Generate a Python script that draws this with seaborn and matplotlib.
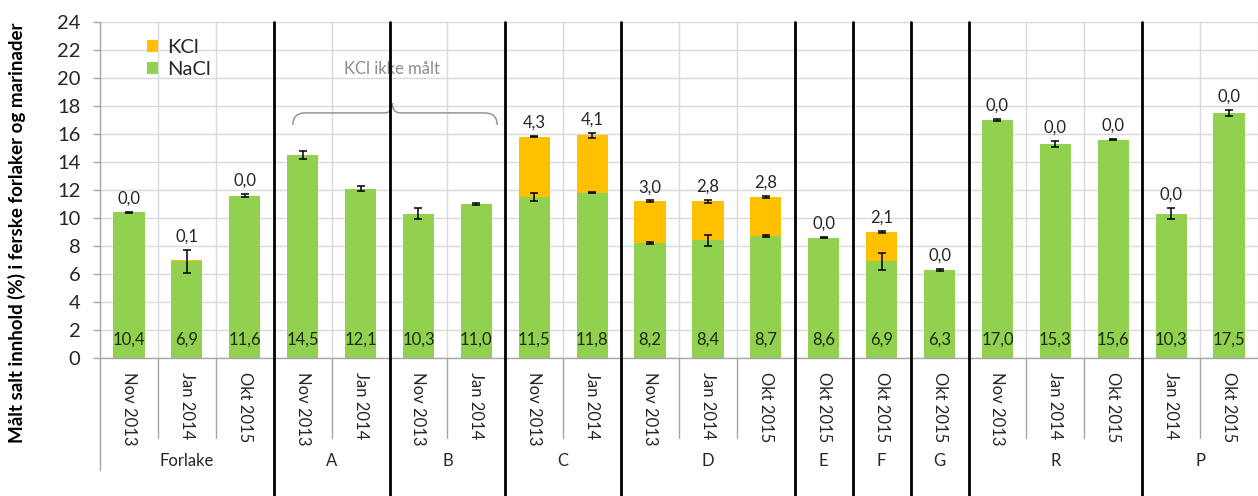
import numpy as np
import pandas as pd
import matplotlib
matplotlib.use("Agg")
import matplotlib.pyplot as plt
from matplotlib.path import Path
from matplotlib.patches import PathPatch, Patch
from matplotlib.transforms import blended_transform_factory
import seaborn as sns

# ---- data ---------------------------------------------------------------
groups = ["Forlake", "A", "B", "C", "D", "E", "F", "G", "R", "P"]
group_dates = [
    ["Nov 2013", "Jan 2014", "Okt 2015"],
    ["Nov 2013", "Jan 2014"],
    ["Nov 2013", "Jan 2014"],
    ["Nov 2013", "Jan 2014"],
    ["Nov 2013", "Jan 2014", "Okt 2015"],
    ["Okt 2015"],
    ["Okt 2015"],
    ["Okt 2015"],
    ["Nov 2013", "Jan 2014", "Okt 2015"],
    ["Jan 2014", "Okt 2015"],
]
nacl = [10.4, 6.9, 11.6, 14.5, 12.1, 10.3, 11.0, 11.5, 11.8,
        8.2, 8.4, 8.7, 8.6, 6.9, 6.3, 17.0, 15.3, 15.6, 10.3, 17.5]
# KCl was not measured for A and B
kcl = [0.0, 0.1, 0.0, np.nan, np.nan, np.nan, np.nan, 4.3, 4.1,
       3.0, 2.8, 2.8, 0.0, 2.1, 0.0, 0.0, 0.0, 0.0, 0.0, 0.0]
# standard deviations: NaCl part and total (NaCl + KCl)
nacl_err = [np.nan, 0.85, np.nan, np.nan, np.nan, np.nan, np.nan, 0.3, 0.05,
            0.06, 0.4, 0.06, np.nan, 0.6, np.nan, np.nan, np.nan, np.nan, np.nan, np.nan]
total_err = [0.05, np.nan, 0.1, 0.3, 0.2, 0.4, 0.1, 0.05, 0.2,
             0.05, 0.1, 0.1, 0.05, 0.05, 0.05, 0.1, 0.2, 0.05, 0.4, 0.2]

legend_labels = ["KCl", "NaCl"]
y_label = "Målt salt innhold (%) i ferske forlaker og marinader"
note_text = "KCl ikke målt"

# ---- table --------------------------------------------------------------
rows = []
for g, dates in zip(groups, group_dates):
    for d in dates:
        rows.append((g, d))
df = pd.DataFrame(rows, columns=["gruppe", "dato"])
df["key"] = df["gruppe"] + "|" + df["dato"]
df["NaCl"] = nacl
df["KCl"] = kcl
df["total"] = df["NaCl"] + df["KCl"].fillna(0.0)
df["nacl_err"] = nacl_err
df["total_err"] = total_err
n = len(df)
order = list(df["key"])

GREEN = "#92D050"
ORANGE = "#FFC000"
GRID = "#D9D9D9"
AXIS = "#A6A6A6"
TXT = "#262626"

sns.set_theme(style="white")
plt.rcParams["font.family"] = ["Lato", "DejaVu Sans"]

fig = plt.figure(figsize=(12.58, 4.96), dpi=100)
ax = fig.add_axes([0.0795, 0.278, 0.9205, 0.678])

# stacked bars: total first (KCl on top), NaCl over it
sns.barplot(data=df, x="key", y="total", order=order, color=ORANGE,
            saturation=1, width=0.54, errorbar=None, ax=ax, zorder=3,
            linewidth=0)
sns.barplot(data=df, x="key", y="NaCl", order=order, color=GREEN,
            saturation=1, width=0.54, errorbar=None, ax=ax, zorder=3,
            linewidth=0)

xs = np.arange(n)
ek = dict(fmt="none", ecolor="black", elinewidth=1.1, capsize=3.2,
          capthick=1.1, zorder=5)
ax.errorbar(xs, df["NaCl"], yerr=df["nacl_err"], **ek)
ax.errorbar(xs, df["total"], yerr=df["total_err"], **ek)

ax.set_xlim(-0.5, n - 0.5)
ax.set_ylim(0, 24)
ax.set_yticks(np.arange(0, 25, 2))
ax.yaxis.grid(True, color=GRID, lw=1.0, zorder=0)
ax.set_axisbelow(True)

# vertical category gridlines
for b in np.arange(-0.5, n, 1.0):
    ax.axvline(b, color=GRID, lw=1.0, zorder=0)

for s in ["top", "right"]:
    ax.spines[s].set_visible(False)
ax.spines["left"].set_visible(False)
ax.spines["bottom"].set_color(AXIS)
ax.spines["bottom"].set_linewidth(1.0)
ax.spines["bottom"].set_zorder(4)

ax.set_xlabel("")
ax.set_ylabel("")
ax.set_xticks(xs)
ax.set_xticklabels(df["dato"], rotation=270, fontsize=12, color=TXT,
                   va="top", ha="center")
ax.tick_params(axis="x", length=0, pad=10)
ax.tick_params(axis="y", length=5, width=1.0, color=AXIS, pad=9,
               labelsize=14.5, labelcolor=TXT, left=True)

# value labels
for i, r in df.iterrows():
    ax.text(i, 1.3, f"{r['NaCl']:.1f}".replace(".", ","), ha="center",
            va="center", fontsize=12, color="#1c2a10", zorder=6)
    if not np.isnan(r["KCl"]):
        top = np.nanmax([r["NaCl"] + (r["nacl_err"] if not np.isnan(r["nacl_err"]) else 0),
                         r["total"] + (r["total_err"] if not np.isnan(r["total_err"]) else 0)])
        ax.text(i, top + 0.95, f"{r['KCl']:.1f}".replace(".", ","), ha="center",
                va="center", fontsize=12, color=TXT, zorder=6)

# separators below the axis and group names
trans = blended_transform_factory(ax.transData, ax.transAxes)
sizes = [len(d) for d in group_dates]
bounds = np.cumsum(sizes)
starts = np.concatenate([[0], bounds[:-1]])
group_edges = set((bounds[:-1] - 0.5).tolist())

ax.plot([-0.5, -0.5], [1.0, -0.333], transform=trans, color=AXIS, lw=1.0,
        clip_on=False, zorder=4)
for b in np.arange(0.5, n - 0.5, 1.0):
    if b not in group_edges:
        ax.plot([b, b], [0, -0.238], transform=trans, color=AXIS, lw=1.0,
                clip_on=False, zorder=4)
for b in sorted(group_edges):
    ax.plot([b, b], [1.0, -0.45], transform=trans, color="black", lw=2.0,
            clip_on=False, zorder=7)
for g, s0, sz in zip(groups, starts, sizes):
    ax.text(s0 + (sz - 1) / 2, -0.307, g, transform=trans, ha="center",
            va="center", fontsize=12, color=TXT)

# legend
handles = [Patch(facecolor=ORANGE, edgecolor="none"),
           Patch(facecolor=GREEN, edgecolor="none")]
ax.legend(handles, legend_labels, loc="upper left", bbox_to_anchor=(0.03, 0.985),
          frameon=False, fontsize=14.5, handlelength=0.55, handleheight=0.55,
          handletextpad=0.45, labelspacing=0.25, borderaxespad=0.2)

# brace over A and B with note
bx = [2.83, 2.83, 3.05, 4.42, 4.55, 4.55, 4.55, 4.68, 6.14, 6.36, 6.36]
by = [16.64, 17.5, 17.5, 17.5, 17.5, 18.2, 17.5, 17.5, 17.5, 17.5, 16.64]
codes = [Path.MOVETO, Path.CURVE3, Path.CURVE3, Path.LINETO, Path.CURVE3,
         Path.CURVE3, Path.CURVE3, Path.CURVE3, Path.LINETO, Path.CURVE3, Path.CURVE3]
brace = PathPatch(Path(np.column_stack([bx, by]), codes), facecolor="none",
                  edgecolor="#8C8C8C", lw=1.0, zorder=6)
ax.add_patch(brace)
ax.text(4.55, 20.6, note_text, ha="center", va="center", fontsize=12,
        color="#8C8C8C", zorder=6)

fig.text(0.0135, 0.53, y_label, rotation=90, ha="center", va="center",
         fontsize=13.5, fontweight="bold", color="black")

fig.savefig("out.png", dpi=100, facecolor="white")
